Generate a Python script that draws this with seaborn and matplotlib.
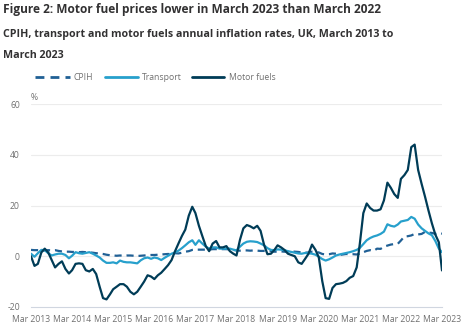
import numpy as np
import pandas as pd
import matplotlib
matplotlib.use("Agg")
import matplotlib.pyplot as plt
import seaborn as sns

# Annual inflation rates (%), monthly, March 2013 to March 2023
cpih = [
    2.5, 2.4, 2.4, 2.3, 2.3, 2.4, 2.3, 2.4, 2.1, 1.9, 1.8, 1.8,
    1.7, 1.7, 1.6, 1.7, 1.6, 1.5, 1.4, 1.2, 1.1, 0.9, 0.6, 0.4,
    0.3, 0.2, 0.3, 0.2, 0.3, 0.3, 0.2, 0.1, 0.2, 0.3, 0.4, 0.5,
    0.5, 0.6, 0.7, 0.8, 0.9, 0.8, 1.2, 1.1, 1.4, 1.8, 2.0, 2.5,
    2.6, 2.6, 2.6, 2.6, 2.6, 2.8, 2.8, 2.8, 2.8, 2.8, 2.7, 2.5,
    2.3, 2.2, 2.3, 2.3, 2.2, 2.3, 2.2, 2.1, 2.1, 2.1, 2.0, 1.8,
    1.8, 1.9, 1.8, 1.8, 1.9, 1.8, 1.7, 1.5, 1.4, 1.5, 1.8, 1.7,
    1.5, 0.9, 0.7, 0.8, 1.1, 1.0, 0.5, 0.7, 0.9, 0.7, 0.8, 0.7,
    1.0, 1.6, 2.1, 2.4, 2.1, 3.0, 2.9, 3.8, 4.2, 4.6, 4.8, 4.9,
    6.2, 7.8, 7.9, 8.2, 8.8, 8.6, 8.8, 9.6, 9.3, 9.2, 8.8, 9.2,
    8.9,
]
transport = [
    1.0, -0.2, 1.2, 2.5, 2.4, 1.2, 0.3, 0.7, 1.0, 1.0, 0.5, -0.8,
    0.2, 1.6, 1.2, 1.0, 1.3, 1.6, 1.0, 0.3, -0.5, -1.7, -2.6, -2.6,
    -2.4, -2.8, -1.7, -2.2, -2.4, -2.4, -2.6, -2.8, -1.6, -0.8, -0.5, -1.0,
    -0.5, -0.8, -1.5, -0.6, 0.2, 1.0, 1.5, 2.2, 3.2, 4.3, 5.5, 6.3,
    4.5, 6.3, 5.0, 3.8, 3.0, 3.5, 3.5, 3.0, 3.0, 3.0, 3.0, 2.6,
    2.3, 3.8, 5.0, 5.7, 5.9, 5.8, 5.6, 5.0, 4.3, 3.2, 2.5, 2.4,
    2.7, 2.6, 2.4, 2.0, 1.7, 1.4, 1.1, 1.0, 1.3, 1.2, 1.0, 0.6,
    -0.2, -1.1, -1.7, -1.2, -0.5, 0.3, 0.7, 1.0, 1.3, 1.6, 2.0, 2.5,
    3.3, 4.8, 6.3, 7.2, 7.8, 8.2, 8.8, 9.7, 12.6, 12.0, 11.7, 12.5,
    13.7, 14.0, 14.3, 15.5, 14.8, 12.5, 11.0, 10.0, 9.0, 8.3, 6.0, 3.0,
    1.6,
]
motor_fuels = [
    0.0, -3.8, -3.0, 1.5, 3.0, 1.5, -1.5, -4.4, -3.0, -2.0, -5.0, -6.8,
    -5.5, -3.0, -2.8, -3.0, -5.5, -6.0, -5.0, -7.0, -12.0, -16.5, -17.0, -15.0,
    -13.0, -12.0, -11.0, -11.0, -12.0, -14.0, -15.0, -14.0, -12.0, -10.0, -7.5, -8.0,
    -9.0, -7.5, -6.5, -5.0, -3.5, -1.5, 2.0, 5.0, 8.0, 10.5, 16.0, 19.5,
    17.0, 12.0, 8.0, 4.0, 2.0, 5.0, 6.0, 3.5, 3.5, 4.0, 2.0, 1.0,
    0.3, 6.5, 11.0, 12.3, 11.8, 11.0, 12.0, 10.0, 4.5, 0.8, 1.0, 2.5,
    4.3, 3.5, 2.5, 1.0, 0.5, 0.0, -2.4, -3.0, -1.0, 1.0, 4.6, 2.5,
    -0.4, -9.8, -16.5, -16.8, -12.5, -11.0, -10.8, -10.5, -9.8, -8.5, -7.8, -4.4,
    5.0, 17.0, 20.8, 19.0, 18.0, 18.0, 18.5, 22.0, 29.0, 27.0, 24.5, 23.0,
    30.5, 32.0, 34.0, 43.0, 44.0, 34.0, 28.5, 23.5, 18.0, 13.0, 8.5, 5.5,
    -5.6,
]
series_names = ["CPIH", "Transport", "Motor fuels"]
months = pd.date_range("2013-03-01", "2023-03-01", freq="MS")
tick_years = list(range(2013, 2024))
tick_labels = [f"Mar {y}" for y in tick_years]
y_ticks = [-20, 0, 20, 40, 60]

df = pd.DataFrame({
    "date": np.tile(months, 3),
    "value": cpih + transport + motor_fuels,
    "series": np.repeat(series_names, len(months)),
})

sns.set_theme(style="white")
plt.rcParams["font.family"] = ["Open Sans", "DejaVu Sans"]

colors = {"CPIH": "#206095", "Transport": "#27a0cc", "Motor fuels": "#003c57"}
dashes = {"CPIH": (3.2, 2.2), "Transport": "", "Motor fuels": ""}

fig = plt.figure(figsize=(4.65, 3.29), dpi=100)
ax = fig.add_axes([31 / 465, 22 / 329, 411 / 465, 203 / 329])

sns.lineplot(data=df, x="date", y="value", hue="series", style="series",
             palette=colors, dashes=dashes, linewidth=1.6, legend=False, ax=ax)

ax.set_ylim(-20, 60)
ax.set_xlim(months[0], months[-1])
ax.set_yticks(y_ticks)
ax.set_yticklabels([str(v) for v in y_ticks])
ax.set_xticks([pd.Timestamp(f"{y}-03-01") for y in tick_years])
ax.set_xticklabels(tick_labels)
ax.set_xlabel("")
ax.set_ylabel("")

for v in y_ticks[1:]:
    ax.axhline(v, color="#ececec", linewidth=0.8, zorder=0)

for side in ["top", "right", "left"]:
    ax.spines[side].set_visible(False)
ax.spines["bottom"].set_color("#d0d6e0")
ax.spines["bottom"].set_linewidth(0.8)
ax.tick_params(axis="x", length=4, width=0.6, color="#d0d6e0", pad=1.5,
               labelsize=6.2, labelcolor="#707070")
ax.tick_params(axis="y", length=0, pad=8, labelsize=6.2, labelcolor="#707070")

ax.text(0.0, 1.01, "%", transform=ax.transAxes, fontsize=6.2, color="#707070",
        ha="left", va="bottom")

fig.text(3 / 465, 1 - 9 / 329, "Figure 2: Motor fuel prices lower in March 2023 than March 2022",
         fontsize=8.6, fontweight="bold", color="#323132", va="center", ha="left")
fig.text(3 / 465, 1 - 35 / 329, "CPIH, transport and motor fuels annual inflation rates, UK, March 2013 to",
         fontsize=7.7, fontweight="bold", color="#323132", va="center", ha="left")
fig.text(3 / 465, 1 - 56 / 329, "March 2023",
         fontsize=7.7, fontweight="bold", color="#323132", va="center", ha="left")

# legend row
legend_y = 1 - 77 / 329
legend_items = [("CPIH", 35, 70, 73), ("Transport", 105, 138, 142), ("Motor fuels", 192, 224, 229)]
for name, x0, x1, xt in legend_items:
    line = plt.Line2D([x0 / 465, x1 / 465], [legend_y, legend_y], transform=fig.transFigure,
                      color=colors[name], linewidth=2.0,
                      dashes=(3.2, 2.2) if name == "CPIH" else (None, None))
    fig.add_artist(line)
    fig.text(xt / 465, legend_y, name, fontsize=6.2, color="#707070", va="center", ha="left")

fig.savefig("out.png", dpi=100)
